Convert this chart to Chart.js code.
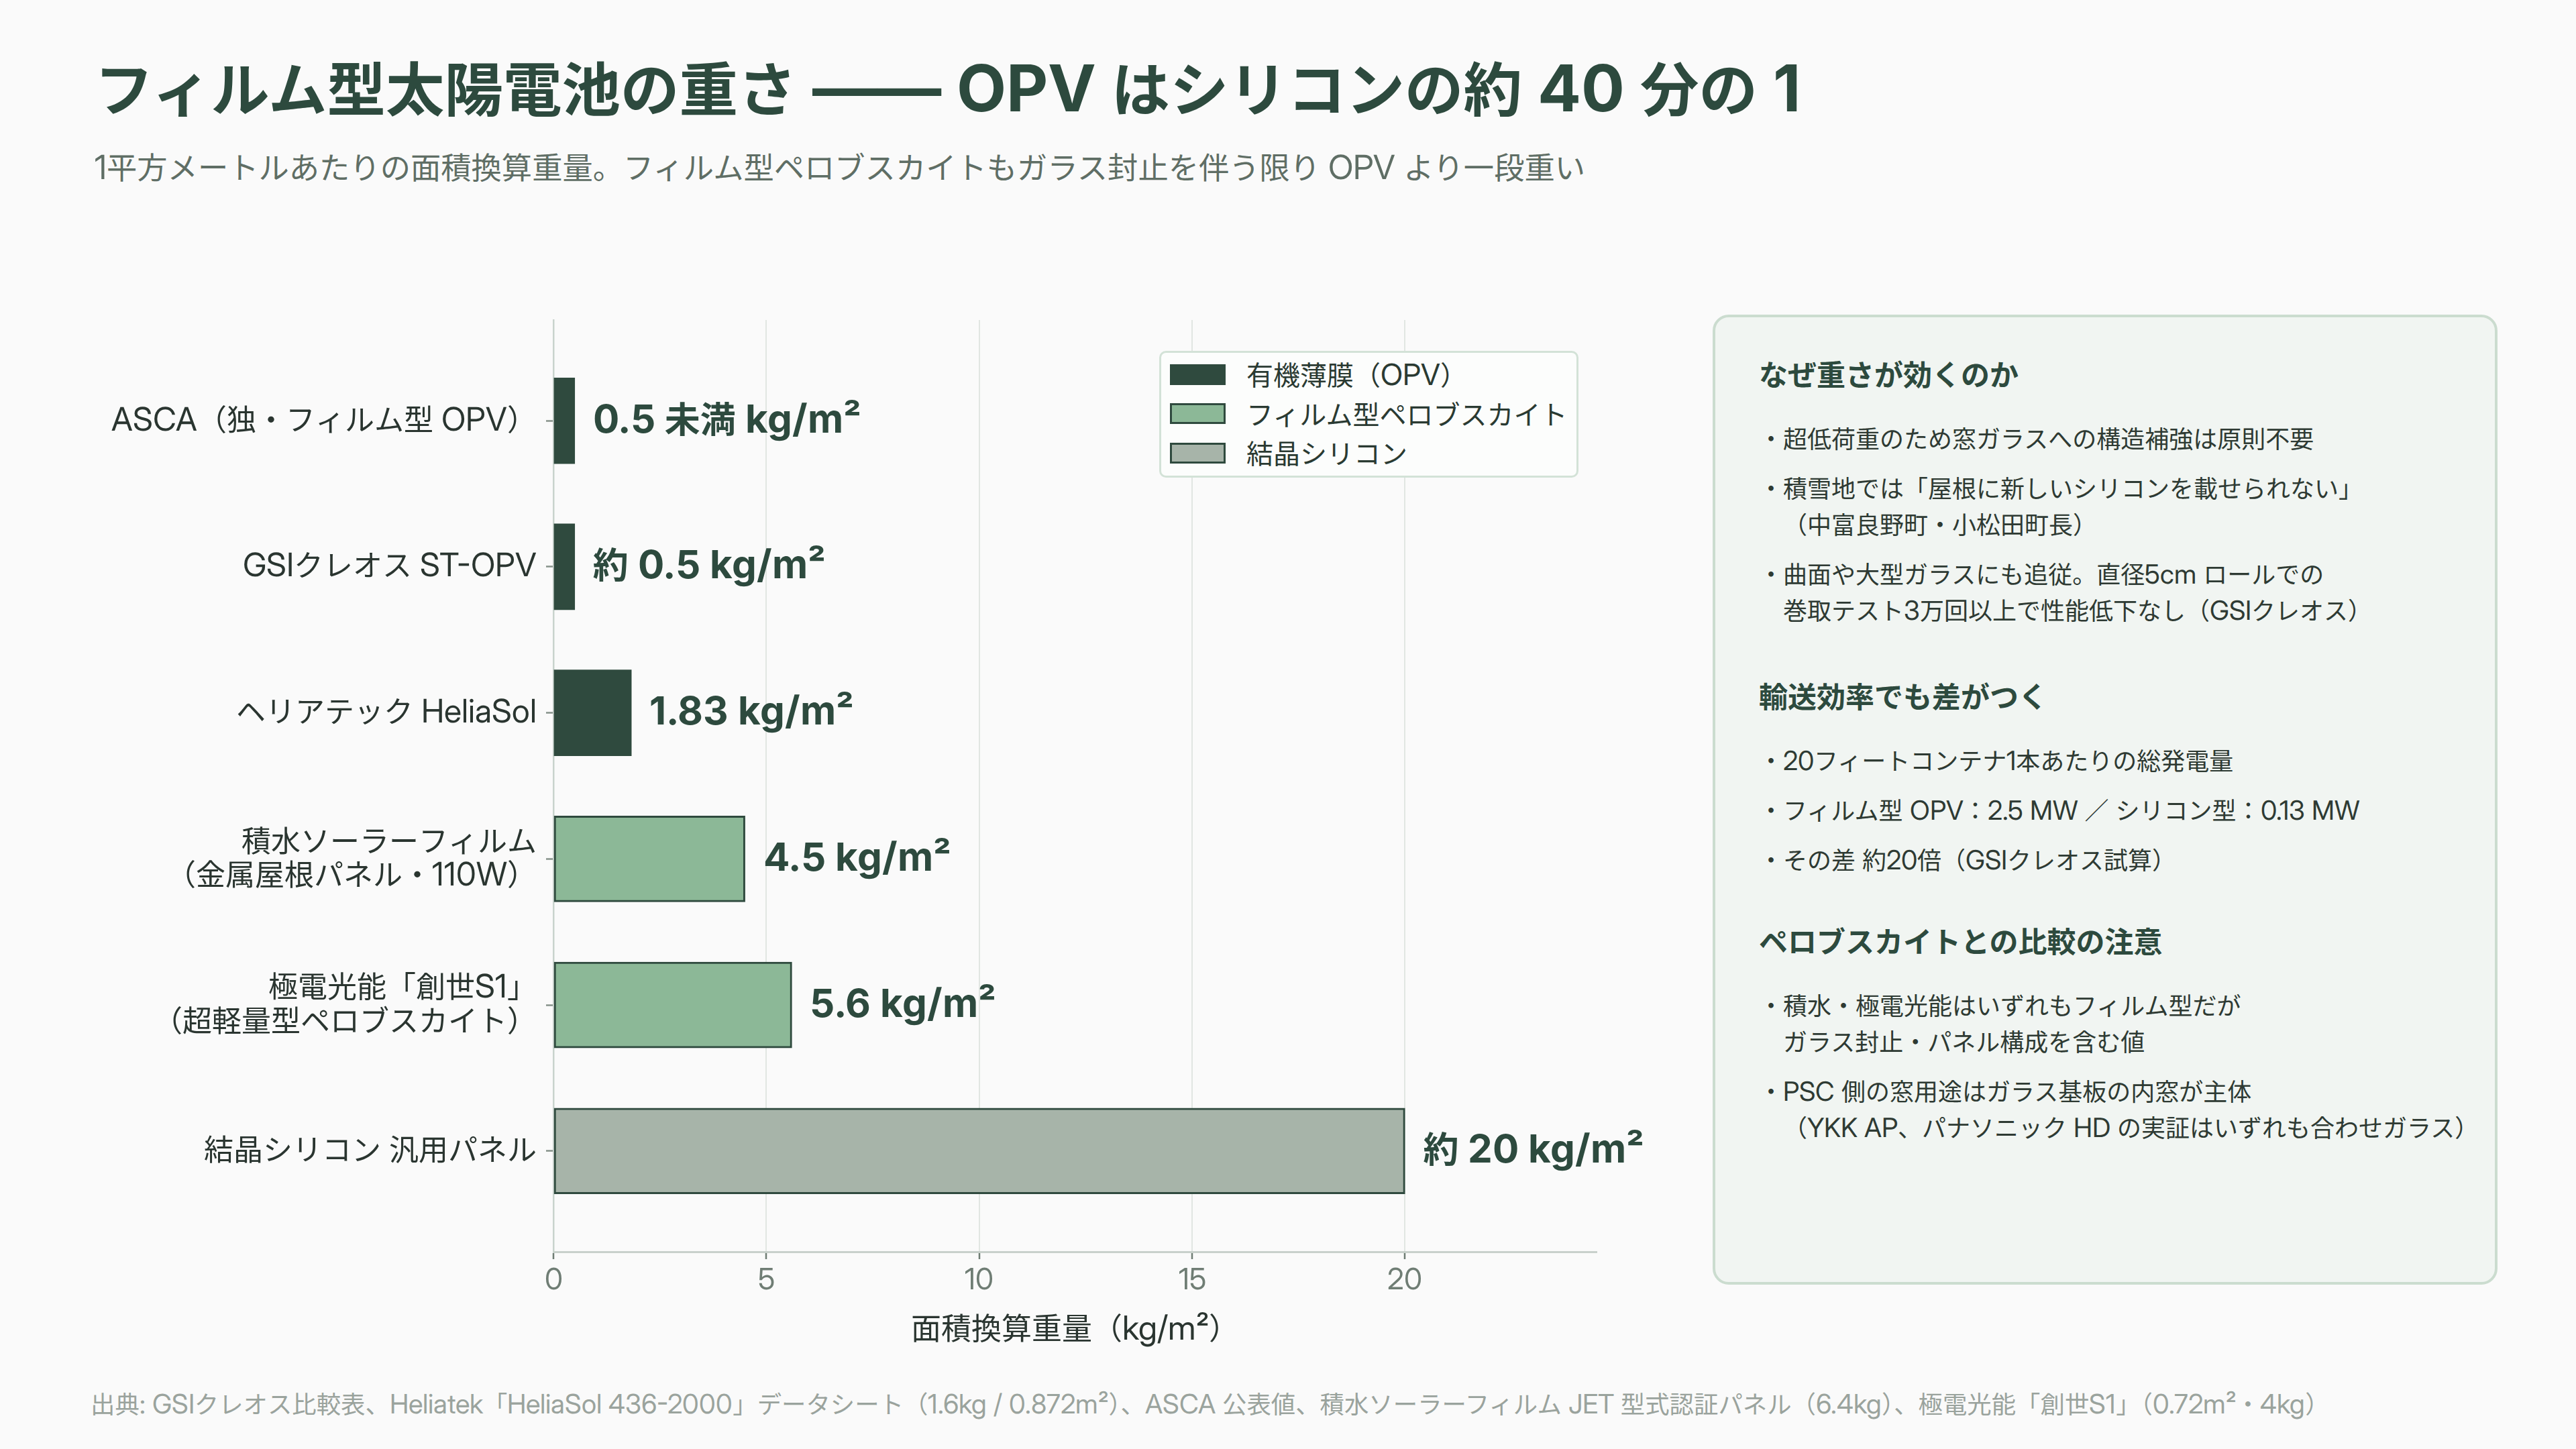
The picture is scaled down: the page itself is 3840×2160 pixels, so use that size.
<!DOCTYPE html>
<html lang="ja">
<head>
<meta charset="utf-8">
<title>フィルム型太陽電池の重さ</title>
<script src="https://cdn.jsdelivr.net/npm/chart.js@4.4.1/dist/chart.umd.min.js"></script>
<style>
  /* 欧文だけ少し大きめに (和文は Noto Sans CJK JP) */
  @font-face { font-family: "LatinX"; src: local("Inter"), local("Inter Regular"), local("Inter-Regular"); font-weight: 400; size-adjust: 110%; unicode-range: U+0000-00FF, U+2000-206F, U+2070-209F; }
  @font-face { font-family: "LatinX"; src: local("Inter Bold"), local("Inter-Bold"), local("Inter"); font-weight: 700; size-adjust: 110%; unicode-range: U+0000-00FF, U+2000-206F, U+2070-209F; }
  html, body { margin: 0; padding: 0; background: #fafafa; }
  body { font-family: LatinX, Inter, "Noto Sans CJK JP", sans-serif; }
  #page { position: relative; width: 3840px; height: 2160px; overflow: hidden; background: #fafafa; }
  .title { position: absolute; left: 141px; top: 76px; font-size: 87.5px; font-weight: 700; color: #2d4a3e; line-height: 110px; white-space: nowrap; }
  .subtitle { position: absolute; left: 141px; top: 221px; font-size: 45.3px; color: #5f6e65; line-height: 56px; white-space: nowrap; }
  #chartBox { position: absolute; left: 0; top: 0; width: 2600px; height: 2017px; }
  #legend { position: absolute; left: 1728px; top: 523px; width: 625px; box-sizing: border-box; border: 3px solid #d3e2d7; border-radius: 10px; background: #fcfdfc; padding: 3px 0 4px 0; }
  #legend .row { display: flex; align-items: center; height: 58.5px; }
  #legend .sw { width: 83px; height: 31px; box-sizing: border-box; margin-left: 13px; margin-right: 31px; border: 3px solid #2f4a3e; }
  #legend .lb { font-size: 40px; line-height: 50px; color: #2a3a32; white-space: nowrap; }
  .panel { position: absolute; left: 2553px; top: 469px; width: 1170px; height: 1446px; box-sizing: border-box; border: 4px solid #cbdccf; border-radius: 24px; background: #f1f5f2; padding: 57px 30px 0 65px; }
  .panel h3 { margin: 0 0 41px 0; font-size: 43px; line-height: 56px; font-weight: 700; color: #2d4a3e; }
  .panel h3.next { margin-top: 73px; }
  .panel h3.last { margin-top: 66px; }
  .panel ul { list-style: none; margin: 0; padding: 0; }
  .panel li { font-size: 36px; line-height: 54px; color: #2e3a33; padding-left: 36px; text-indent: -36px; margin-bottom: 20px; white-space: nowrap; }
  .panel li:last-child { margin-bottom: 0; }
  .source { position: absolute; left: 135px; top: 2071px; font-size: 36.4px; line-height: 44px; color: #9aa39d; white-space: nowrap; }
</style>
</head>
<body>
<div id="page">
  <div class="title">フィルム型太陽電池の重さ —— OPV はシリコンの約 40 分の 1</div>
  <div class="subtitle">1平方メートルあたりの面積換算重量。フィルム型ペロブスカイトもガラス封止を伴う限り OPV より一段重い</div>

  <div id="chartBox"><canvas id="weightChart"></canvas></div>
  <div id="legend"></div>

  <div class="panel">
    <h3>なぜ重さが効くのか</h3>
    <ul>
      <li>・超低荷重のため窓ガラスへの構造補強は原則不要</li>
      <li>・積雪地では「屋根に新しいシリコンを載せられない」<br>（中富良野町・小松田町長）</li>
      <li>・曲面や大型ガラスにも追従。直径5cm ロールでの<br>巻取テスト3万回以上で性能低下なし（GSIクレオス）</li>
    </ul>
    <h3 class="next">輸送効率でも差がつく</h3>
    <ul>
      <li>・20フィートコンテナ1本あたりの総発電量</li>
      <li>・フィルム型 OPV：2.5 MW ／ シリコン型：0.13 MW</li>
      <li>・その差 約20倍（GSIクレオス試算）</li>
    </ul>
    <h3 class="last">ペロブスカイトとの比較の注意</h3>
    <ul>
      <li>・積水・極電光能はいずれもフィルム型だが<br>ガラス封止・パネル構成を含む値</li>
      <li>・PSC 側の窓用途はガラス基板の内窓が主体<br>（YKK AP、パナソニック HD の実証はいずれも合わせガラス）</li>
    </ul>
  </div>

  <div class="source">出典: GSIクレオス比較表、Heliatek「HeliaSol 436-2000」データシート（1.6kg / 0.872m²）、ASCA 公表値、積水ソーラーフィルム JET 型式認証パネル（6.4kg）、極電光能「創世S1」（0.72m²・4kg）</div>
</div>

<script>
// 製品ごとの面積換算重量 (kg/m²)
const products = [
    'ASCA（独・フィルム型 OPV）',
    'GSIクレオス ST-OPV',
    'ヘリアテック HeliaSol',
    ['積水ソーラーフィルム', '（金属屋根パネル・110W）'],
    ['極電光能「創世S1」', '（超軽量型ペロブスカイト）'],
    '結晶シリコン 汎用パネル'
];
const weights = [0.5, 0.5, 1.83, 4.5, 5.6, 20];
const weightLabels = ['0.5 未満 kg/m²', '約 0.5 kg/m²', '1.83 kg/m²', '4.5 kg/m²', '5.6 kg/m²', '約 20 kg/m²'];
const productGroup = ['opv', 'opv', 'opv', 'psc', 'psc', 'si'];

// 凡例グループ
const groupKeys = ['opv', 'psc', 'si'];
const groupNames = ['有機薄膜（OPV）', 'フィルム型ペロブスカイト', '結晶シリコン'];
const groupColors = ['#2f4a3e', '#8cb897', '#a7b4a9'];

const xTicksMax = 24.5;
const edgeColor = '#2f4a3e';
const fontFamily = 'LatinX, Inter, "Noto Sans CJK JP", sans-serif';

// バー右側の数値ラベル
const valueLabelPlugin = {
    id: 'valueLabels',
    afterDatasetsDraw(chart) {
        const ctx = chart.ctx;
        ctx.save();
        ctx.font = '700 53px ' + fontFamily;
        ctx.fillStyle = '#2d4a3e';
        ctx.textAlign = 'left';
        ctx.textBaseline = 'middle';
        chart.data.datasets.forEach((ds, di) => {
            const meta = chart.getDatasetMeta(di);
            meta.data.forEach((bar, j) => {
                const idx = ds.data[j].y;
                ctx.fillText(weightLabels[idx], bar.x + 27, bar.y);
            });
        });
        ctx.restore();
    }
};

function buildChart() {
    Chart.defaults.font.family = fontFamily;

    const datasets = groupKeys.map((key, gi) => ({
        label: groupNames[gi],
        data: weights.map((w, i) => ({ x: w, y: i })).filter(p => productGroup[p.y] === key),
        backgroundColor: groupColors[gi],
        borderColor: edgeColor,
        borderWidth: key === 'opv' ? 0 : 3,
        borderSkipped: false,
        barThickness: 128,
        grouped: false
    }));

    const chart = new Chart(document.getElementById('weightChart'), {
        type: 'bar',
        data: { datasets: datasets },
        options: {
            indexAxis: 'y',
            responsive: true,
            maintainAspectRatio: false,
            animation: false,
            layout: { padding: { top: 477, right: 220, bottom: 8, left: 0 } },
            plugins: {
                legend: { display: false },
                tooltip: { enabled: false }
            },
            scales: {
                x: {
                    type: 'linear',
                    min: 0,
                    max: xTicksMax,
                    ticks: { stepSize: 5, includeBounds: false, font: { size: 40 }, color: '#6f7d74', padding: 8 },
                    grid: { color: '#e1e6e2', lineWidth: 2, tickColor: '#6f7d74', tickLength: 11, tickWidth: 2.5 },
                    border: { color: '#c8d0cb', width: 3 },
                    title: { display: true, text: '面積換算重量（kg/m²）', font: { size: 45 }, color: '#2a3530', padding: { top: 14, bottom: 0 } }
                },
                y: {
                    type: 'linear',
                    reverse: true,
                    offset: false,
                    min: -0.69,
                    max: 5.69,
                    afterBuildTicks: scale => {
                        scale.ticks = products.map((_, i) => ({ value: i }));
                    },
                    afterFit: scale => {
                        scale.width = 825;
                    },
                    ticks: {
                        autoSkip: false,
                        callback: v => products[v],
                        font: { size: 44, lineHeight: 1.15 },
                        color: '#2a3530',
                        padding: 14
                    },
                    grid: { offset: false, drawOnChartArea: false, tickLength: 11, tickColor: '#86928a', tickWidth: 2.5 },
                    border: { color: '#c9d3cd', width: 2.5 }
                }
            }
        },
        plugins: [valueLabelPlugin]
    });

    // 凡例 (HTML)
    const legendBox = document.getElementById('legend');
    chart.data.datasets.forEach((ds, i) => {
        const row = document.createElement('div');
        row.className = 'row';
        const sw = document.createElement('span');
        sw.className = 'sw';
        sw.style.background = ds.backgroundColor;
        sw.style.borderColor = i === 0 ? ds.backgroundColor : edgeColor;
        const lb = document.createElement('span');
        lb.className = 'lb';
        lb.innerText = ds.label;
        row.appendChild(sw);
        row.appendChild(lb);
        legendBox.appendChild(row);
    });
}

// canvas に描く前にフォントを読み込んでおく
Promise.all([
    document.fonts.load('400 44px LatinX'),
    document.fonts.load('700 53px LatinX'),
    document.fonts.load('400 44px "Noto Sans CJK JP"', '面'),
    document.fonts.load('700 53px "Noto Sans CJK JP"', '約')
]).catch(() => null).then(buildChart);
</script>
</body>
</html>
